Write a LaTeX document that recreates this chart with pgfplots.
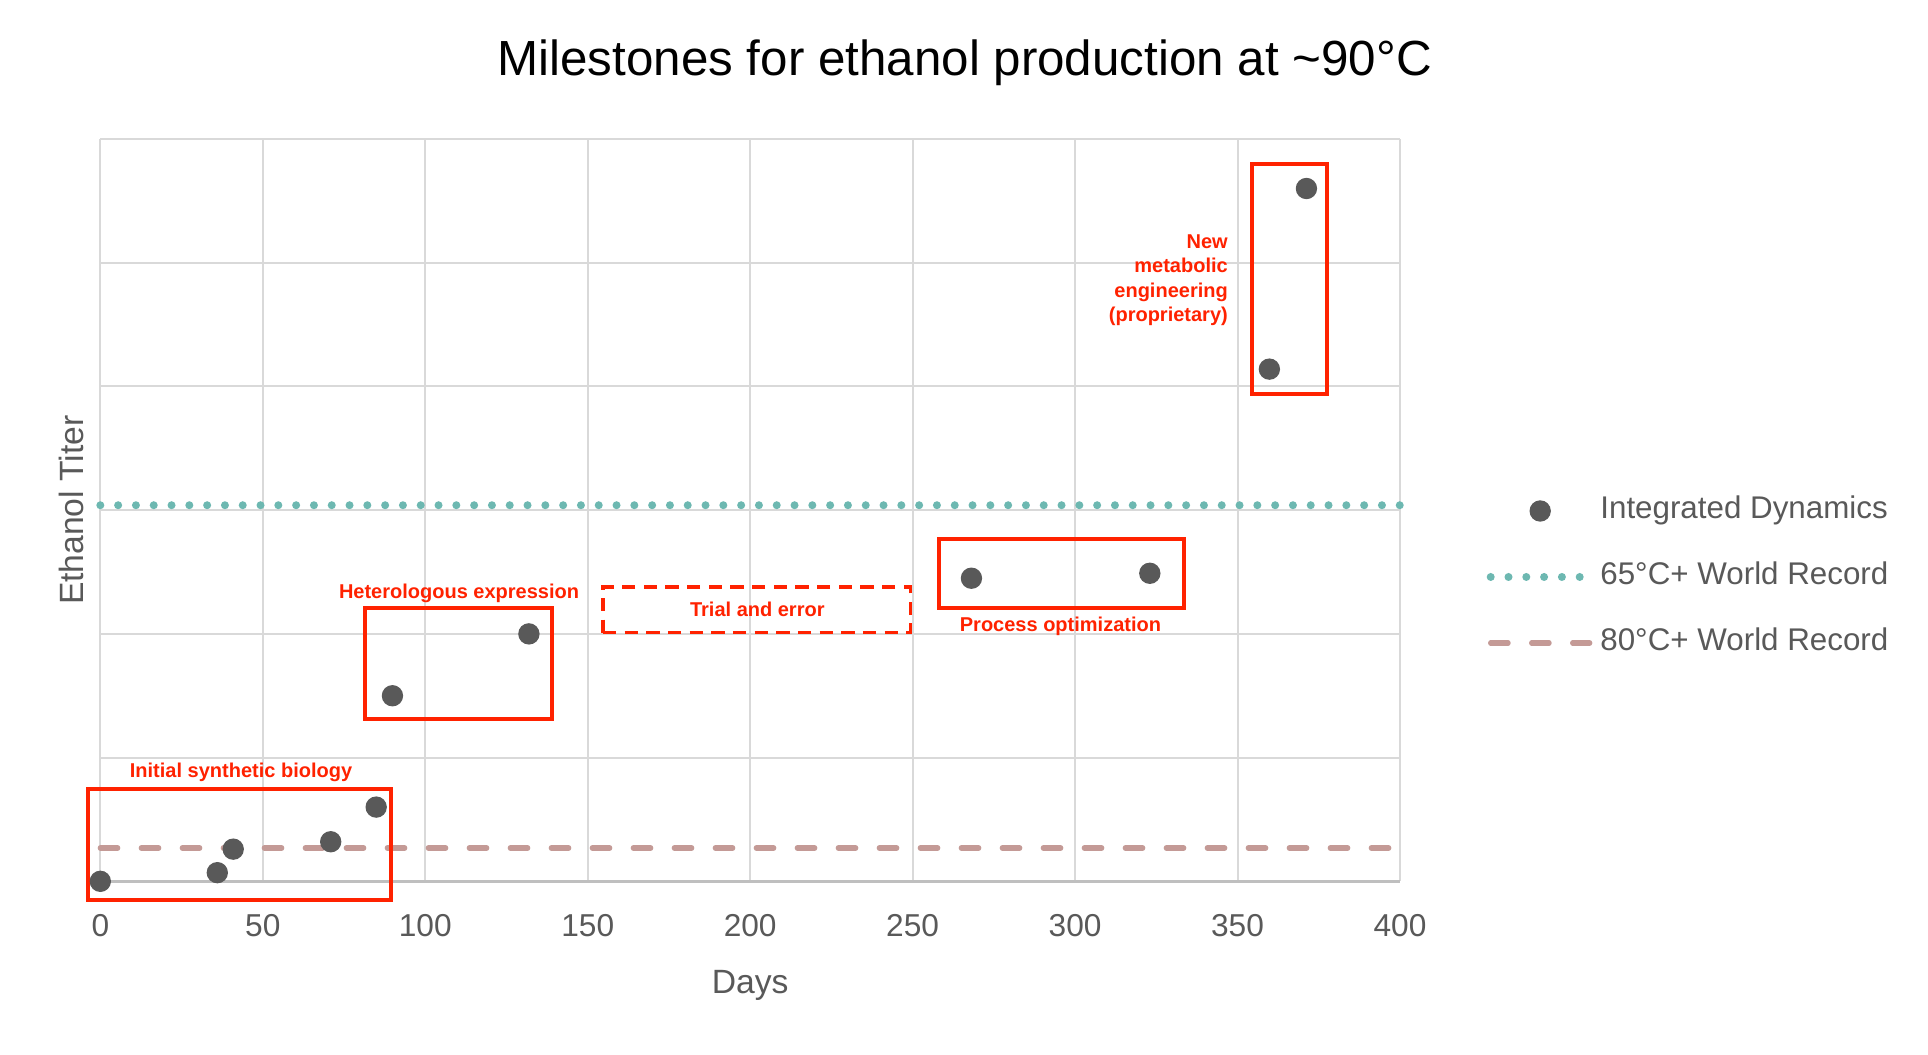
\documentclass[border=0pt]{standalone}
\usepackage{pgfplots}
\pgfplotsset{compat=1.18}
\usepackage{fontspec}
\setmainfont{Liberation Sans}
\definecolor{gridc}{HTML}{D9D9D9}
\definecolor{axc}{HTML}{BFBFBF}
\definecolor{txt}{HTML}{595959}
\definecolor{mk}{HTML}{595959}
\definecolor{tealc}{HTML}{6DB8B1}
\definecolor{brownc}{HTML}{C49A96}
\definecolor{redc}{HTML}{FF2200}
\begin{document}
\begin{tikzpicture}
\useasboundingbox[fill=white] (0,0) rectangle (578.4pt,316.2pt);
\begin{axis}[
  at={(30.1pt,51.8pt)}, anchor=south west,
  scale only axis, width=389.9pt, height=222.7pt,
  xmin=0, xmax=400, ymin=0, ymax=6,
  xtick={0,50,...,400}, ytick={0,1,...,6},
  yticklabels={},
  grid=major,
  major grid style={draw=gridc, line width=0.6pt},
  axis x line*=bottom, axis y line*=left,
  x axis line style={draw=axc, line width=0.8pt, -},
  y axis line style={draw=none},
  major tick length=0pt,
  tick style={draw=none},
  clip=false,
  /pgf/number format/assume math mode=true,
  ticklabel style={font=\fontsize{9.5}{11}\selectfont, text=txt},
  xticklabel style={yshift=-6.5pt},
  xlabel={Days}, ylabel={Ethanol Titer},
  every axis x label/.style={at={(axis description cs:0.5,0)}, anchor=center, yshift=-31.1pt, font=\fontsize{10.1}{12}\selectfont, text=txt},
  every axis y label/.style={at={(axis description cs:0,0.5)}, anchor=center, rotate=90, yshift=8.6pt, font=\fontsize{10.1}{12}\selectfont, text=txt},
  legend style={at={(rel axis cs:1.0585,0.41)}, anchor=west, draw=none, fill=none,
     font=\fontsize{9.4}{11}\selectfont, text=txt, column sep=0pt, row sep=7pt,
     nodes={inner sep=2pt, text height=6.8pt, text depth=2pt}},
  legend cell align=left,
  legend image code/.code={\draw[mark repeat=2,mark phase=2] plot coordinates {(0pt,0pt) (14.85pt,0pt) (29.7pt,0pt)};},
]
% world record lines
\addplot[brownc, line width=1.6pt, line cap=round, dash pattern=on 5.2pt off 7.1pt, forget plot] coordinates {(0,0.27) (400,0.27)};
\addplot[tealc, line width=2.4pt, line cap=round, dash pattern=on 0pt off 5.34pt, forget plot] coordinates {(0,3.04) (400,3.04)};
% data points
\addplot[only marks, mark=*, mark size=3pt, mark options={fill=mk, draw=mk}] coordinates {
 (0,0) (36.0,0.07) (40.9,0.26) (70.9,0.32) (84.9,0.60)
 (89.9,1.50) (131.9,2.00) (268.1,2.45) (323.0,2.49) (359.8,4.14) (371.2,5.60)};
\addlegendentry{Integrated Dynamics}
\addlegendimage{tealc, line width=2.4pt, line cap=round, dash pattern=on 0pt off 5.34pt}
\addlegendentry{65°C+ World Record}
\addlegendimage{brownc, line width=1.6pt, line cap=round, dash pattern=on 5.2pt off 7.1pt}
\addlegendentry{80°C+ World Record}
% annotation boxes
\addplot[redc, line width=1.2pt, forget plot] coordinates {(-3.8,-0.15) (89.5,-0.15) (89.5,0.746) (-3.8,0.746) (-3.8,-0.15)} -- cycle;
\addplot[redc, line width=1.2pt, forget plot] coordinates {(81.5,1.31) (139.1,1.31) (139.1,2.21) (81.5,2.21) (81.5,1.31)} -- cycle;
\addplot[redc, line width=1.1pt, dash pattern=on 4pt off 2.5pt, forget plot] coordinates {(154.7,2.01) (249.3,2.01) (249.3,2.38) (154.7,2.38) (154.7,2.01)} -- cycle;
\addplot[redc, line width=1.2pt, forget plot] coordinates {(258.2,2.21) (333.6,2.21) (333.6,2.77) (258.2,2.77) (258.2,2.21)} -- cycle;
\addplot[redc, line width=1.2pt, forget plot] coordinates {(354.5,3.94) (377.6,3.94) (377.6,5.80) (354.5,5.80) (354.5,3.94)} -- cycle;
% annotation labels
\begin{scope}[every node/.style={text=redc, font=\bfseries\fontsize{6}{7.3}\selectfont, inner sep=0pt}]
\node at (axis cs:43.3,0.88) {Initial synthetic biology};
\node at (axis cs:110.4,2.33) {Heterologous expression};
\node at (axis cs:202.2,2.20) {Trial and error};
\node at (axis cs:295.5,2.06) {Process optimization};
\node[anchor=east, align=right] at (axis cs:347.2,4.86) {New\\metabolic\\engineering\\(proprietary)};
\end{scope}
\node[font=\fontsize{14.8}{18}\selectfont, text=black] at (axis cs:266,6.616) {Milestones for ethanol production at \textasciitilde 90°C};
\end{axis}
\end{tikzpicture}
\end{document}
